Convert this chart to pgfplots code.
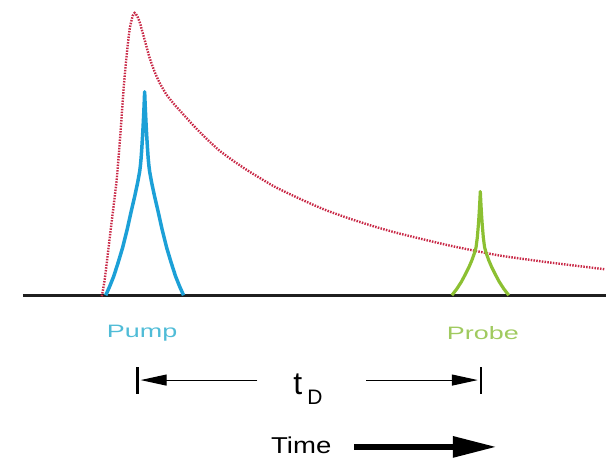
\documentclass[border=0pt]{standalone}
\usepackage{pgfplots}
\pgfplotsset{compat=1.18}
\usepackage{fontspec}
\setmainfont{Liberation Sans}
\usetikzlibrary{arrows.meta}
\definecolor{pumpblue}{RGB}{28,160,215}
\definecolor{probegreen}{RGB}{140,192,50}
\definecolor{pumptext}{RGB}{80,188,215}
\definecolor{probetext}{RGB}{160,202,95}
\definecolor{decayred}{RGB}{200,40,70}
\begin{document}
\begin{tikzpicture}
\begin{axis}[
  width=607pt, height=459pt, scale only axis,
  xmin=0, xmax=607, ymin=0, ymax=459, y dir=reverse,
  axis lines=none, clip=false, enlargelimits=false,
]
% invisible extent to keep the full canvas
\addplot[draw=none, mark=none] coordinates {(0,0) (607,459)};
% baseline
\addplot[line width=3pt, color=black!88] coordinates {(23,296) (607,296)};
% red dotted decay
\addplot[decayred, line width=2.4pt, dash pattern=on 1.5pt off 1.3pt, smooth, tension=0.35] coordinates {
(102,297) (105,280) (111,230) (117,180) (121,130) (124,88) (127,55) (130,29) (133,16) (135,13) (137.5,16) (140,22) (145,40) (150,58) (155,72) (160,83) (167,95) (175,105) (185,116) (195,127) (207,139) (220,151) (235,162) (250,172) (275,187) (300,199) (325,210) (350,219) (375,227) (400,234) (450,246) (500,256) (550,263) (607,270)};
% pump pulse
\addplot[pumpblue, line width=3.5pt, line join=round] coordinates {
(106,296) (110,287) (114,277) (118.5,263) (123,248) (127.5,230) (131.5,212) (135,197) (138,183) (140,172) (140.75,166) (141.5,158) (142.25,147) (143,135) (143.5,126) (144,116) (144.5,105) (145,92)
(145.5,105) (146,116) (146.5,126) (147,135) (147.75,147) (148.5,158) (149.25,166) (150,172) (152,183) (155,197) (158.5,212) (162.5,230) (167,248) (171.5,263) (176,277) (180,287) (184,296)};
% probe pulse
\addplot[probegreen, line width=3.2pt, line join=round] coordinates {
(453,296) (458,289.5) (462.5,282.5) (466.5,275) (470,268) (473,261) (475.5,254) (477.2,248) (478.5,238) (479.5,226) (480,219) (480.5,211) (481,202) (481.5,192)
(482,202) (482.5,211) (483,219) (483.5,226) (484.5,238) (485.8,248) (487.5,254) (490,261) (493,268) (496.5,275) (500.5,282.5) (505,289.5) (510,296)};
% t_D markers
\addplot[black, line width=2.6pt] coordinates {(138,368) (138,395)};
\addplot[black, line width=2.6pt] coordinates {(482,368) (482,395)};
\addplot[black, line width=1.1pt, -{Triangle[length=26pt,width=11pt]}] coordinates {(258,381) (141,381)};
\addplot[black, line width=1.1pt, -{Triangle[length=26pt,width=11pt]}] coordinates {(367,381) (479,381)};
% time arrow
\addplot[black, line width=6pt, -{Triangle[length=44pt,width=20pt]}] coordinates {(355,448) (498,448)};
% labels
\node[pumptext, font=\fontsize{18}{18}\selectfont, xscale=1.5, anchor=base, inner sep=0pt] at (axis cs:142.5,338) {Pump};
\node[probetext, font=\fontsize{18}{18}\selectfont, xscale=1.5, anchor=base, inner sep=0pt] at (axis cs:484,340) {Probe};
\node[font=\fontsize{23}{23}\selectfont, xscale=1.2, anchor=base, inner sep=0pt] at (axis cs:302,455) {Time};
\node[font=\fontsize{32}{32}\selectfont, anchor=base west, inner sep=0pt] at (axis cs:294,395) {t};
\node[font=\fontsize{21}{21}\selectfont, anchor=base west, inner sep=0pt] at (axis cs:308,405) {D};
\end{axis}
\end{tikzpicture}
\end{document}
